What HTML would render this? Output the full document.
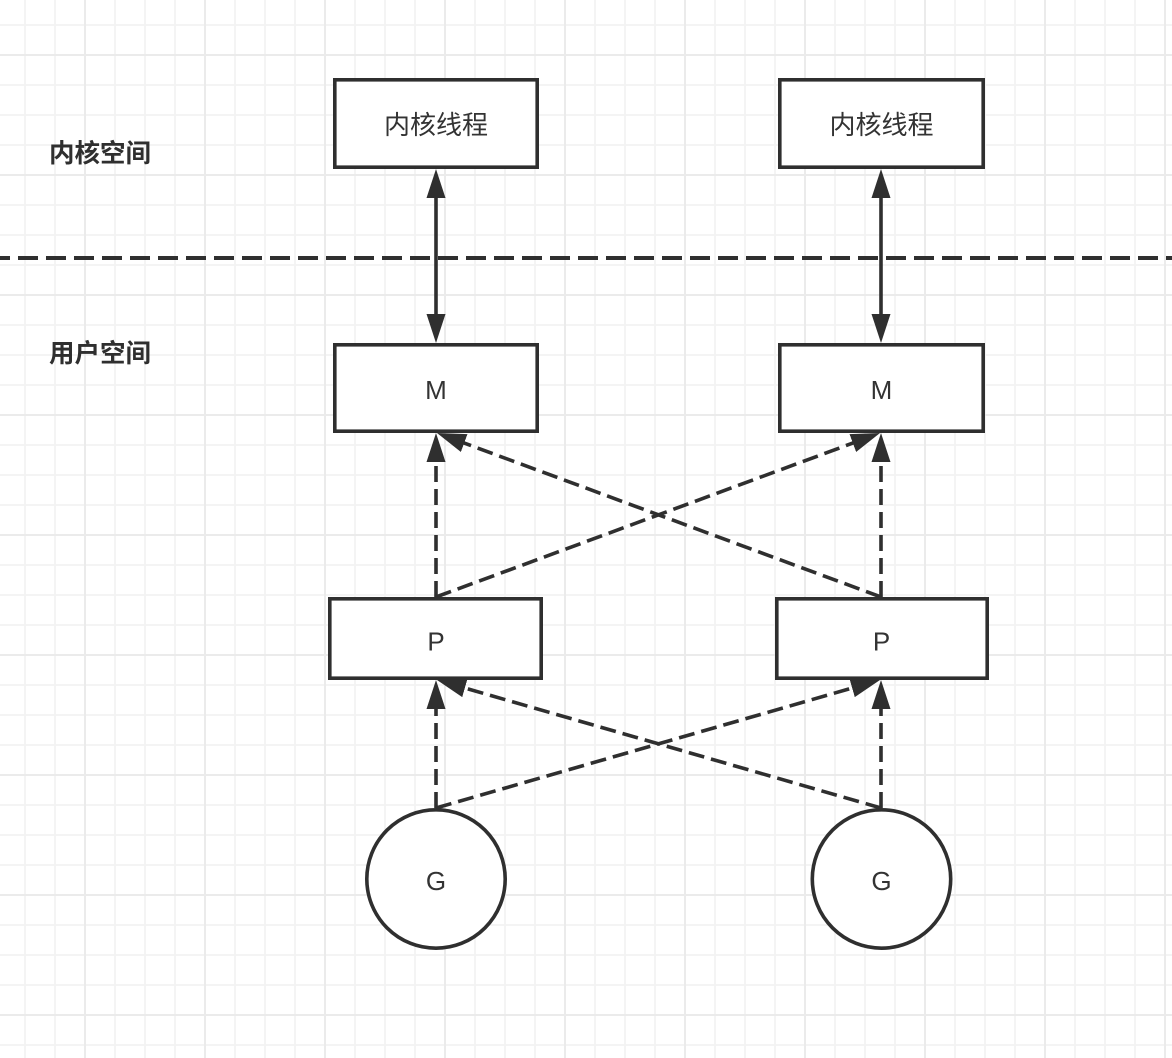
<!DOCTYPE html>
<html><head><meta charset="utf-8"><style>
html,body{margin:0;padding:0;background:#fff;}
svg{display:block;}
.cjk{font-family:"Liberation Sans","Noto Sans CJK SC",sans-serif;}
.lat{font-family:"Liberation Sans","Noto Sans CJK SC",sans-serif;}
</style></head><body>
<svg width="1172" height="1058" viewBox="0 0 1172 1058" xmlns="http://www.w3.org/2000/svg">
<defs>
<marker id="ah" markerUnits="userSpaceOnUse" markerWidth="32" markerHeight="24" viewBox="0 -12 32 24" refX="21" refY="0" orient="auto-start-reverse">
<path d="M0,-9.5 L29,0 L0,9.5 Z" fill="#2f2f2f"/>
</marker>
</defs>
<rect width="1172" height="1058" fill="#fff"/>
<!-- grid minor -->
<path stroke="#f3f3f3" stroke-width="1.8" fill="none" d="M25 0V1058M55 0V1058M115 0V1058M145 0V1058M175 0V1058M235 0V1058M265 0V1058M295 0V1058M355 0V1058M385 0V1058M415 0V1058M475 0V1058M505 0V1058M535 0V1058M595 0V1058M625 0V1058M655 0V1058M715 0V1058M745 0V1058M775 0V1058M835 0V1058M865 0V1058M895 0V1058M955 0V1058M985 0V1058M1015 0V1058M1075 0V1058M1105 0V1058M1135 0V1058
M0 25H1172M0 85H1172M0 115H1172M0 145H1172M0 205H1172M0 235H1172M0 265H1172M0 325H1172M0 355H1172M0 385H1172M0 445H1172M0 475H1172M0 505H1172M0 565H1172M0 595H1172M0 625H1172M0 685H1172M0 715H1172M0 745H1172M0 805H1172M0 835H1172M0 865H1172M0 925H1172M0 955H1172M0 985H1172M0 1045H1172"/>
<!-- grid major -->
<path stroke="#ebebeb" stroke-width="2" fill="none" d="M85 0V1058M205 0V1058M325 0V1058M445 0V1058M565 0V1058M685 0V1058M805 0V1058M925 0V1058M1045 0V1058M1165 0V1058
M0 55H1172M0 175H1172M0 295H1172M0 415H1172M0 535H1172M0 655H1172M0 775H1172M0 895H1172M0 1015H1172"/>

<!-- divider -->
<line x1="0" y1="258" x2="1172" y2="258" stroke="#2f2f2f" stroke-width="4" stroke-dasharray="20 8" stroke-dashoffset="10"/>

<!-- labels -->
<text class="cjk" x="49" y="154" font-size="25.5" font-weight="bold" fill="#2f2f2f" dominant-baseline="central">内核空间</text>
<text class="cjk" x="49" y="354" font-size="25.5" font-weight="bold" fill="#2f2f2f" dominant-baseline="central">用户空间</text>

<!-- connectors -->
<g stroke="#2f2f2f" stroke-width="3.6" fill="none">
<line x1="436" y1="177" x2="436" y2="335" marker-start="url(#ah)" marker-end="url(#ah)"/>
<line x1="881" y1="177" x2="881" y2="335" marker-start="url(#ah)" marker-end="url(#ah)"/>
<g stroke-dasharray="16 7">
<line x1="436" y1="597" x2="436" y2="441" marker-end="url(#ah)"/>
<line x1="881" y1="597" x2="881" y2="441" marker-end="url(#ah)"/>
<line x1="881" y1="597" x2="444.5" y2="435.8" marker-end="url(#ah)"/>
<line x1="436" y1="597" x2="872.5" y2="435.8" marker-end="url(#ah)"/>
<line x1="436" y1="808" x2="436" y2="688" marker-end="url(#ah)"/>
<line x1="881" y1="808" x2="881" y2="688" marker-end="url(#ah)"/>
<line x1="881" y1="808" x2="444.7" y2="682.2" marker-end="url(#ah)"/>
<line x1="436" y1="808" x2="872.3" y2="682.2" marker-end="url(#ah)"/>
</g>
</g>

<!-- boxes -->
<g stroke="#2f2f2f" stroke-width="3.6" fill="#fff">
<rect x="334.8" y="79.8" width="202.4" height="87.4"/>
<rect x="779.8" y="79.8" width="203.4" height="87.4"/>
<rect x="334.8" y="344.8" width="202.4" height="86.4"/>
<rect x="779.8" y="344.8" width="203.4" height="86.4"/>
<rect x="329.8" y="598.8" width="211.4" height="79.4"/>
<rect x="776.8" y="598.8" width="210.4" height="79.4"/>
<circle cx="436" cy="879" r="69.2"/>
<circle cx="881.5" cy="879" r="69.2"/>
</g>

<!-- node text -->
<g fill="#333" font-size="26" text-anchor="middle">
<text class="cjk" x="436" y="125" dominant-baseline="central">内核线程</text>
<text class="cjk" x="881.5" y="125" dominant-baseline="central">内核线程</text>
<text class="lat" x="436" y="399">M</text>
<text class="lat" x="881.5" y="399">M</text>
<text class="lat" x="436" y="650.5">P</text>
<text class="lat" x="881.5" y="650.5">P</text>
<text class="lat" x="436" y="890">G</text>
<text class="lat" x="881.5" y="890">G</text>
</g>
</svg>
</body></html>
